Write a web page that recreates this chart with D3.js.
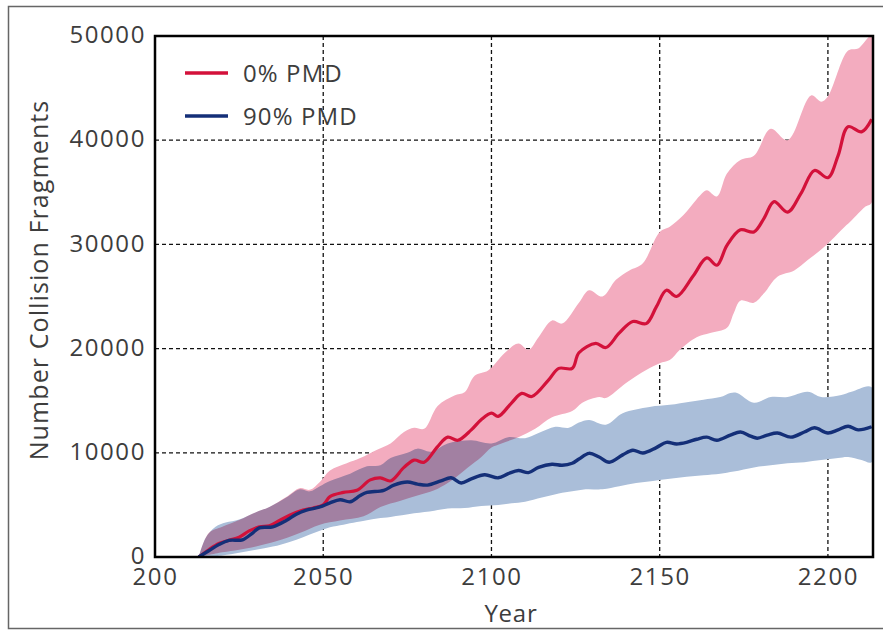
<!DOCTYPE html>
<html>
<head>
<meta charset="utf-8">
<script src="https://cdn.jsdelivr.net/npm/d3@7"></script>
<style>
  body { margin: 0; background: #fff; }
  svg text { font-family: "Open Sans", sans-serif; fill: #3d3d3d; }
</style>
</head>
<body>
<div id="chart"></div>
<script>
// values: [year, number of collision fragments]
var pmd0Mean = [[2013,0],[2016,700],[2019,1300],[2022,1600],[2025,1900],[2028,2500],[2031,2900],[2034,3000],[2037,3500],[2040,4000],[2044,4500],[2047,4700],[2050,5000],[2052,5800],[2056,6200],[2060,6400],[2064,7400],[2067,7600],[2070,7300],[2074,8600],[2077,9300],[2080,9100],[2084,10600],[2087,11500],[2090,11200],[2094,12200],[2097,13200],[2100,13800],[2102,13500],[2106,14800],[2109,15700],[2112,15400],[2117,17000],[2120,18100],[2124,18100],[2126,19600],[2131,20500],[2134,20100],[2138,21500],[2142,22600],[2146,22400],[2149,24000],[2152,25600],[2155,25000],[2160,27000],[2164,28700],[2167,28000],[2170,29900],[2174,31400],[2178,31200],[2181,32500],[2184,34100],[2188,33100],[2192,34900],[2196,37100],[2200,36400],[2203,38500],[2206,41300],[2210,40800],[2213,42000]];
var pmd0Upper = [[2013,0],[2016,2300],[2020,2900],[2025,3550],[2030,4300],[2034,4800],[2039,5750],[2043,6600],[2046,6450],[2049,7200],[2052,8300],[2057,9000],[2061,9500],[2066,10300],[2070,10900],[2074,12000],[2077,12400],[2080,12300],[2084,14500],[2089,15500],[2092,15800],[2095,17400],[2099,17900],[2104,19600],[2108,20500],[2111,19900],[2114,21100],[2118,22700],[2121,22400],[2126,24400],[2129,25600],[2133,25000],[2137,26600],[2141,27500],[2145,28200],[2150,31200],[2153,31700],[2157,32800],[2162,34700],[2164,35200],[2167,34600],[2170,36800],[2174,38100],[2178,38500],[2183,41100],[2188,40000],[2195,44300],[2198,43700],[2200,44200],[2206,48600],[2209,48800],[2213,50000]];
var pmd0Lower = [[2013,0],[2020,450],[2025,700],[2030,1000],[2036,1500],[2043,2300],[2049,3100],[2055,3500],[2062,3900],[2067,4800],[2073,5400],[2078,5900],[2083,6400],[2087,7100],[2090,7800],[2093,8600],[2097,9600],[2100,10500],[2103,10900],[2108,11500],[2113,12300],[2118,13400],[2124,14000],[2127,14800],[2132,15350],[2134,15250],[2140,16700],[2146,17950],[2150,18600],[2153,18900],[2156,19900],[2161,21100],[2165,21500],[2170,22000],[2172,23400],[2174,24600],[2178,24400],[2181,25300],[2185,26900],[2190,27500],[2194,28500],[2198,29500],[2201,30400],[2205,31700],[2207,32300],[2211,33600],[2213,34000]];

var pmd90Mean = [[2013,0],[2016,600],[2019,1200],[2022,1600],[2026,1650],[2029,2300],[2031,2800],[2035,2900],[2039,3500],[2042,4100],[2045,4500],[2049,4800],[2052,5200],[2055,5500],[2058,5300],[2061,5900],[2063,6200],[2068,6400],[2071,6900],[2075,7200],[2078,7000],[2081,6900],[2085,7300],[2088,7600],[2091,7100],[2094,7500],[2098,7900],[2102,7600],[2105,8000],[2108,8300],[2111,8100],[2114,8600],[2118,8900],[2121,8800],[2124,9000],[2126,9400],[2129,9950],[2132,9600],[2135,9100],[2139,9800],[2142,10250],[2145,9980],[2149,10500],[2152,11000],[2155,10850],[2158,11000],[2161,11300],[2164,11500],[2167,11200],[2171,11700],[2174,12000],[2177,11600],[2179,11400],[2182,11700],[2185,11900],[2189,11500],[2193,12000],[2196,12400],[2200,11900],[2203,12200],[2206,12550],[2209,12200],[2213,12500]];
var pmd90Upper = [[2013,0],[2015,1800],[2018,2900],[2021,3300],[2025,3600],[2030,4300],[2034,4800],[2039,5700],[2043,6500],[2046,6300],[2049,6800],[2052,7300],[2058,8000],[2063,8700],[2067,8800],[2070,9500],[2075,10000],[2078,10400],[2082,10100],[2087,10900],[2094,11200],[2100,10900],[2105,11500],[2110,11400],[2114,11900],[2119,12500],[2123,12400],[2126,12900],[2129,13150],[2134,12700],[2139,13800],[2147,14400],[2153,14600],[2159,14900],[2163,15100],[2168,15350],[2171,15750],[2173,15750],[2178,14800],[2183,15350],[2188,15350],[2194,15850],[2198,15350],[2204,15550],[2207,15850],[2213,16300]];
var pmd90Lower = [[2013,0],[2020,150],[2025,400],[2030,700],[2035,1000],[2040,1450],[2044,1900],[2048,2400],[2052,2850],[2056,3100],[2060,3350],[2066,3700],[2070,3850],[2077,4200],[2083,4450],[2087,4650],[2092,4700],[2097,4900],[2102,5000],[2106,5150],[2110,5300],[2115,5700],[2120,6100],[2124,6300],[2128,6500],[2133,6500],[2138,6800],[2143,7100],[2148,7300],[2153,7500],[2158,7700],[2163,7850],[2168,8000],[2172,8200],[2178,8600],[2183,8800],[2188,9000],[2193,9100],[2198,9300],[2203,9500],[2206,9600],[2210,9300],[2213,9100]];

var xTicks = [2000, 2050, 2100, 2150, 2200];
var xTickLabels = ["200", "2050", "2100", "2150", "2200"];
var yTicks = [0, 10000, 20000, 30000, 40000, 50000];
var seriesNames = ["0% PMD", "90% PMD"];

var W = 883, H = 631;
var margin = { top: 36, right: 10, bottom: 74, left: 155 },
  width = W - margin.left - margin.right,
  height = H - margin.top - margin.bottom;

var svg = d3.select("#chart").append("svg")
  .attr("width", W)
  .attr("height", H);

// outer frame of the figure
svg.append("rect")
  .attr("x", 8.5).attr("y", 6.5)
  .attr("width", W).attr("height", 622)
  .attr("fill", "none")
  .attr("stroke", "#666")
  .attr("stroke-width", 1.5);

var g = svg.append("g")
  .attr("transform", "translate(" + margin.left + "," + margin.top + ")");

var x = d3.scaleLinear().domain([2000, 2213.4]).range([0, width]);
var y = d3.scaleLinear().domain([0, 50000]).range([height, 0]);

g.append("clipPath").attr("id", "clip")
  .append("rect").attr("width", width).attr("height", height);

// grid
g.selectAll(".hgrid").data(yTicks.slice(1, -1)).enter().append("line")
  .attr("x1", 0).attr("x2", width)
  .attr("y1", function (d) { return y(d); })
  .attr("y2", function (d) { return y(d); })
  .attr("stroke", "#111").attr("stroke-width", 1.3)
  .attr("stroke-dasharray", "4,3");
g.selectAll(".vgrid").data(xTicks.slice(1)).enter().append("line")
  .attr("y1", 0).attr("y2", height)
  .attr("x1", function (d) { return x(d); })
  .attr("x2", function (d) { return x(d); })
  .attr("stroke", "#111").attr("stroke-width", 1.3)
  .attr("stroke-dasharray", "4,3");

// bands: upper edge then lower edge back
var bandLine = d3.line()
  .x(function (d) { return x(d[0]); })
  .y(function (d) { return y(d[1]); })
  .curve(d3.curveCatmullRom);

var plot = g.append("g").attr("clip-path", "url(#clip)");

plot.append("path")
  .attr("d", bandLine(pmd0Upper.concat(pmd0Lower.slice().reverse())) + "Z")
  .attr("fill", "#f3acbf");
plot.append("path")
  .attr("d", bandLine(pmd90Upper.concat(pmd90Lower.slice().reverse())) + "Z")
  .attr("fill", "#aabed9")
  .style("mix-blend-mode", "multiply");

var meanLine = d3.line()
  .x(function (d) { return x(d[0]); })
  .y(function (d) { return y(d[1]); })
  .curve(d3.curveCatmullRom);

plot.append("path").datum(pmd0Mean)
  .attr("fill", "none")
  .attr("stroke", "#d3113a")
  .attr("stroke-width", 3.2)
  .attr("stroke-linejoin", "round")
  .attr("d", meanLine);
plot.append("path").datum(pmd90Mean)
  .attr("fill", "none")
  .attr("stroke", "#142f78")
  .attr("stroke-width", 3.4)
  .attr("stroke-linejoin", "round")
  .attr("d", meanLine);

// axis box
g.append("rect")
  .attr("width", width).attr("height", height)
  .attr("fill", "none")
  .attr("stroke", "#000")
  .attr("stroke-width", 2.5);

// tick labels
var yAxis = g.append("g")
  .call(d3.axisLeft(y).tickValues(yTicks).tickSize(0).tickPadding(9).tickFormat(d3.format("d")));
yAxis.select(".domain").remove();
yAxis.selectAll("text")
  .attr("dy", "0.28em")
  .style("font-size", "24px")
  .style("letter-spacing", "1.6px")
  .style("fill", "#3d3d3d");

var xAxis = g.append("g")
  .attr("transform", "translate(0," + height + ")")
  .call(d3.axisBottom(x).tickValues(xTicks).tickSize(0).tickPadding(10)
    .tickFormat(function (d, i) { return xTickLabels[i]; }));
xAxis.select(".domain").remove();
xAxis.selectAll("text")
  .attr("dy", "0.75em")
  .style("font-size", "24px")
  .style("letter-spacing", "1.6px")
  .style("fill", "#3d3d3d");

// axis titles
svg.append("text")
  .attr("x", margin.left + width / 2 - 3)
  .attr("y", 622)
  .attr("text-anchor", "middle")
  .style("font-size", "24px")
  .style("letter-spacing", "0.8px")
  .text("Year");
svg.append("text")
  .attr("transform", "translate(48," + 280 + ") rotate(-90)")
  .attr("text-anchor", "middle")
  .style("font-size", "25px")
  .style("letter-spacing", "1.1px")
  .text("Number Collision Fragments");

// legend
var legendColors = ["#d3113a", "#142f78"];
var legend = svg.selectAll(".legend").data(seriesNames).enter().append("g")
  .attr("transform", function (d, i) { return "translate(185," + (73 + i * 43) + ")"; });
legend.append("line")
  .attr("x1", 0).attr("x2", 43)
  .attr("stroke", function (d, i) { return legendColors[i]; })
  .attr("stroke-width", 3.5);
legend.append("text")
  .attr("x", 58).attr("y", 8.5)
  .style("font-size", "24px")
  .style("letter-spacing", "1.1px")
  .text(function (d) { return d; });
</script>
</body>
</html>
